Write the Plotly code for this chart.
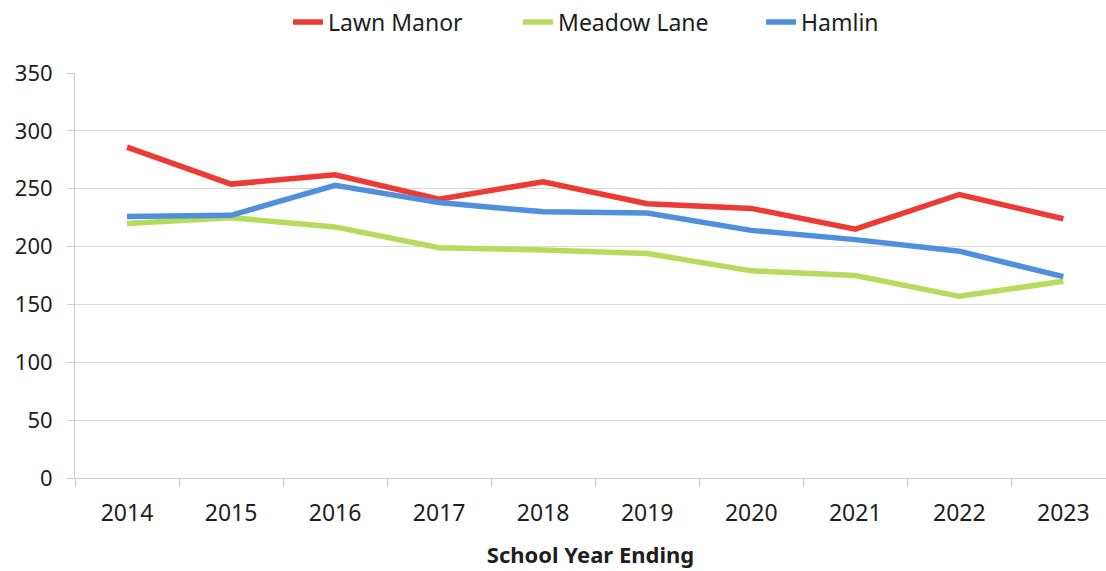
import plotly.graph_objects as go

years = ["2014", "2015", "2016", "2017", "2018", "2019", "2020", "2021", "2022", "2023"]
lawn_manor = [286, 254, 262, 241, 256, 237, 233, 215, 245, 224]
meadow_lane = [220, 225, 217, 199, 197, 194, 179, 175, 157, 170]
hamlin = [226, 227, 253, 238, 230, 229, 214, 206, 196, 174]

series_names = ["Lawn Manor", "Meadow Lane", "Hamlin"]
series_values = [lawn_manor, meadow_lane, hamlin]
series_colors = ["#EC3A35", "#B5DC5C", "#4F8FDB"]
legend_ids = ["legend", "legend2", "legend3"]
legend_x = [0.2066, 0.4297, 0.6654]

y_ticks = [0, 50, 100, 150, 200, 250, 300, 350]

font_family = "Noto Sans, Open Sans, sans-serif"
text_col = "#1e1e1e"

fig = go.Figure()
for name, vals, col, lid in zip(series_names, series_values, series_colors, legend_ids):
    fig.add_trace(go.Scatter(
        x=years, y=vals, name=name, mode="lines",
        line=dict(color=col, width=5.5), legend=lid,
    ))

legend_layout = {}
for lid, lx in zip(legend_ids, legend_x):
    legend_layout[lid] = dict(
        orientation="h", x=lx, xanchor="left", y=1.126, yanchor="middle",
        font=dict(size=23, color=text_col), itemwidth=30,
        bgcolor="rgba(0,0,0,0)",
    )

fig.update_layout(
    width=1106, height=571,
    margin=dict(l=75, r=0, t=73, b=93, autoexpand=False),
    paper_bgcolor="white", plot_bgcolor="white",
    font=dict(family=font_family, color=text_col, size=20),
    showlegend=True,
    xaxis=dict(
        type="category", tickson="boundaries", ticks="outside", ticklen=8,
        tickcolor="#c8c8c8", showgrid=False, showline=True, linecolor="#d0d0d0",
        linewidth=1, tickfont=dict(size=23, color=text_col),
        ticklabelstandoff=14,
        title=dict(text="<b>School Year Ending</b>", font=dict(size=22, color=text_col), standoff=21),
        range=[-0.5, 9.41],
    ),
    yaxis=dict(
        range=[0, 350], tickvals=y_ticks, ticks="outside", ticklen=7,
        tickcolor="#d0d0d0", showgrid=True, gridcolor="#d9d9d9", gridwidth=1,
        showline=True, linecolor="#c8c8c8", linewidth=1, zeroline=False,
        tickfont=dict(size=22, color=text_col), ticklabelstandoff=10,
    ),
    **legend_layout,
)

fig.write_html(
    "out.html",
    config={"displayModeBar": False},
    post_script="document.body.style.margin='0';document.body.style.overflow='hidden';",
)
